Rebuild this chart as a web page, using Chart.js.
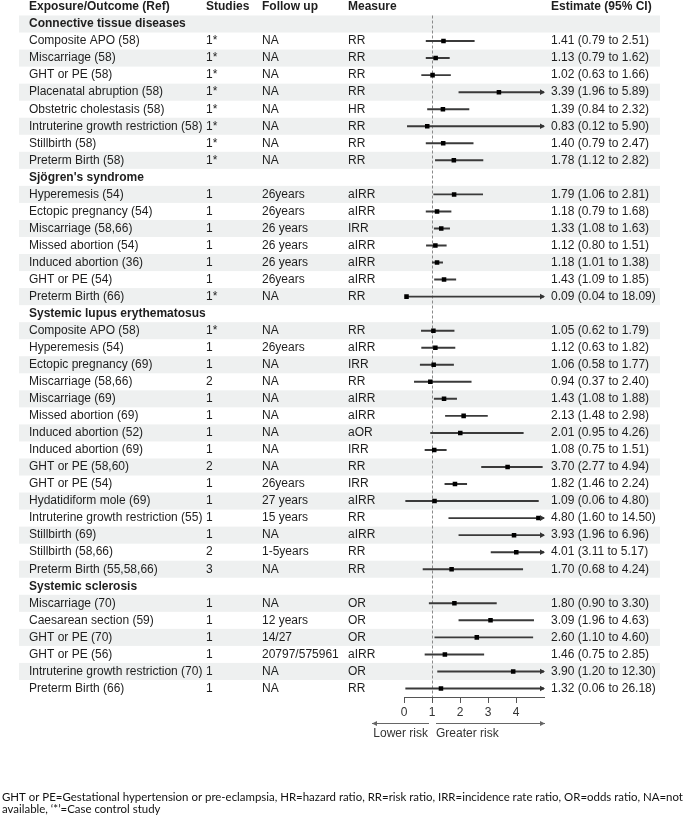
<!DOCTYPE html>
<html>
<head>
<meta charset="utf-8">
<script src="https://cdn.jsdelivr.net/npm/chart.js@4.4.1/dist/chart.umd.min.js"></script>
<style>
    body {margin: 0; background: #fff;}
    #wrap {position: relative; width: 685px; height: 819px;}
</style>
</head>
<body>
<div id="wrap"><canvas id="forest"></canvas></div>
<script>
//分组
var sections = ['Connective tissue diseases', "Sjögren's syndrome", 'Systemic lupus erythematosus', 'Systemic sclerosis'];
var sectionOf = [0, 0, 0, 0, 0, 0, 0, 0,
    1, 1, 1, 1, 1, 1, 1,
    2, 2, 2, 2, 2, 2, 2, 2, 2, 2, 2, 2, 2, 2, 2,
    3, 3, 3, 3, 3, 3];
var outcomes = ['Composite APO (58)', 'Miscarriage (58)', 'GHT or PE (58)', 'Placenatal abruption (58)',
    'Obstetric cholestasis (58)', 'Intruterine growth restriction (58)', 'Stillbirth (58)', 'Preterm Birth (58)',
    'Hyperemesis (54)', 'Ectopic pregnancy (54)', 'Miscarriage (58,66)', 'Missed abortion (54)',
    'Induced abortion (36)', 'GHT or PE (54)', 'Preterm Birth (66)',
    'Composite APO (58)', 'Hyperemesis (54)', 'Ectopic pregnancy (69)', 'Miscarriage (58,66)', 'Miscarriage (69)',
    'Missed abortion (69)', 'Induced abortion (52)', 'Induced abortion (69)', 'GHT or PE (58,60)', 'GHT or PE (54)',
    'Hydatidiform mole (69)', 'Intruterine growth restriction (55)', 'Stillbirth (69)', 'Stillbirth (58,66)',
    'Preterm Birth (55,58,66)',
    'Miscarriage (70)', 'Caesarean section (59)', 'GHT or PE (70)', 'GHT or PE (56)',
    'Intruterine growth restriction (70)', 'Preterm Birth (66)'];
var studies = ['1*', '1*', '1*', '1*', '1*', '1*', '1*', '1*',
    '1', '1', '1', '1', '1', '1', '1*',
    '1*', '1', '1', '2', '1', '1', '1', '1', '2', '1', '1', '1', '1', '2', '3',
    '1', '1', '1', '1', '1', '1'];
var followUp = ['NA', 'NA', 'NA', 'NA', 'NA', 'NA', 'NA', 'NA',
    '26years', '26years', '26 years', '26 years', '26 years', '26years', 'NA',
    'NA', '26years', 'NA', 'NA', 'NA', 'NA', 'NA', 'NA', 'NA', '26years', '27 years', '15 years', 'NA', '1-5years', 'NA',
    'NA', '12 years', '14/27', '20797/575961', 'NA', 'NA'];
var measures = ['RR', 'RR', 'RR', 'RR', 'HR', 'RR', 'RR', 'RR',
    'aIRR', 'aIRR', 'IRR', 'aIRR', 'aIRR', 'aIRR', 'RR',
    'RR', 'aIRR', 'IRR', 'RR', 'aIRR', 'aIRR', 'aOR', 'IRR', 'RR', 'IRR', 'aIRR', 'RR', 'aIRR', 'RR', 'RR',
    'OR', 'OR', 'OR', 'aIRR', 'OR', 'RR'];
var estimate = [1.41, 1.13, 1.02, 3.39, 1.39, 0.83, 1.40, 1.78,
    1.79, 1.18, 1.33, 1.12, 1.18, 1.43, 0.09,
    1.05, 1.12, 1.06, 0.94, 1.43, 2.13, 2.01, 1.08, 3.70, 1.82, 1.09, 4.80, 3.93, 4.01, 1.70,
    1.80, 3.09, 2.60, 1.46, 3.90, 1.32];
var lower = [0.79, 0.79, 0.63, 1.96, 0.84, 0.12, 0.79, 1.12,
    1.06, 0.79, 1.08, 0.80, 1.01, 1.09, 0.04,
    0.62, 0.63, 0.58, 0.37, 1.08, 1.48, 0.95, 0.75, 2.77, 1.46, 0.06, 1.60, 1.96, 3.11, 0.68,
    0.90, 1.96, 1.10, 0.75, 1.20, 0.06];
var upper = [2.51, 1.62, 1.66, 5.89, 2.32, 5.90, 2.47, 2.82,
    2.81, 1.68, 1.63, 1.51, 1.38, 1.85, 18.09,
    1.79, 1.82, 1.77, 2.40, 1.88, 2.98, 4.26, 1.51, 4.94, 2.24, 4.80, 14.50, 6.96, 5.17, 4.24,
    3.30, 4.63, 4.60, 2.85, 12.30, 26.18];
var xTicks = [0, 1, 2, 3, 4];
var xMax = 5;
var headers = ['Exposure/Outcome (Ref)', 'Studies', 'Follow up', 'Measure', 'Estimate (95% CI)'];
var footnote = ['GHT or PE=Gestational hypertension or pre-eclampsia, HR=hazard ratio, RR=risk ratio, IRR=incidence rate ratio, OR=odds ratio, NA=not',
    'available, \u2018*\u2019=Case control study'];

//表格行（分组标题 + 结局）
var rowText = [], rowBold = [], rowStudy = [], rowFollow = [], rowMeasure = [], rowEst = [], rowCI = [], rowUpper = [];
for (var i = 0; i < outcomes.length; i++) {
    if (i == 0 || sectionOf[i] != sectionOf[i - 1]) {
        rowText.push(sections[sectionOf[i]]); rowBold.push(true);
        rowStudy.push(''); rowFollow.push(''); rowMeasure.push('');
        rowEst.push(null); rowCI.push(null); rowUpper.push(null);
    }
    rowText.push(outcomes[i]); rowBold.push(false);
    rowStudy.push(studies[i]); rowFollow.push(followUp[i]); rowMeasure.push(measures[i]);
    rowEst.push(estimate[i]); rowCI.push([lower[i], upper[i]]); rowUpper.push(upper[i]);
}

var FONT = '"Liberation Sans", Arial, sans-serif';
var colX = [29, 206, 262, 348, 551];

var forestPlugin = {
    id: 'forest',
    beforeDatasetsDraw: function (chart) {
        var ctx = chart.ctx, y = chart.scales.y, x = chart.scales.x;
        var h = (y.getPixelForValue(1) - y.getPixelForValue(0));
        ctx.save();
        //斑马纹
        ctx.fillStyle = '#eef0f0';
        for (var i = 0; i < rowText.length; i += 2) {
            var cy = y.getPixelForValue(i);
            ctx.fillRect(19, cy - h / 2, 641, h);
        }
        //参考线 x=1
        ctx.strokeStyle = '#8a8a8a';
        ctx.lineWidth = 1;
        ctx.setLineDash([3, 2]);
        var px = Math.round(x.getPixelForValue(1)) + 0.5;
        ctx.beginPath();
        ctx.moveTo(px, chart.chartArea.top);
        ctx.lineTo(px, chart.chartArea.bottom);
        ctx.stroke();
        ctx.restore();
    },
    afterDatasetsDraw: function (chart) {
        var ctx = chart.ctx, y = chart.scales.y, x = chart.scales.x;
        ctx.save();
        ctx.fillStyle = '#333';
        for (var i = 0; i < rowText.length; i++) {
            if (rowUpper[i] != null && rowUpper[i] > xMax) {
                var ex = x.right + 1, cy = y.getPixelForValue(i);
                ctx.beginPath();
                ctx.moveTo(ex, cy);
                ctx.lineTo(ex - 5, cy - 2.8);
                ctx.lineTo(ex - 5, cy + 2.8);
                ctx.closePath();
                ctx.fill();
            }
        }
        ctx.restore();
    },
    afterDraw: function (chart) {
        var ctx = chart.ctx, y = chart.scales.y, x = chart.scales.x;
        var h = (y.getPixelForValue(1) - y.getPixelForValue(0));
        ctx.save();
        ctx.textBaseline = 'middle';
        ctx.fillStyle = '#1e1e1e';
        //表头
        ctx.font = 'bold 12px ' + FONT;
        var hy = y.getPixelForValue(0) - h;
        for (var c = 0; c < headers.length; c++) {
            ctx.fillText(headers[c], colX[c], hy);
        }
        for (var i = 0; i < rowText.length; i++) {
            var cy = y.getPixelForValue(i);
            ctx.font = (rowBold[i] ? 'bold ' : '') + '12px ' + FONT;
            ctx.fillText(rowText[i], colX[0], cy);
            if (rowBold[i]) continue;
            ctx.font = '12px ' + FONT;
            ctx.fillText(rowStudy[i], colX[1], cy);
            ctx.fillText(rowFollow[i], colX[2], cy);
            ctx.fillText(rowMeasure[i], colX[3], cy);
            ctx.fillText(rowEst[i].toFixed(2) + ' (' + rowCI[i][0].toFixed(2) + ' to ' + rowCI[i][1].toFixed(2) + ')', colX[4], cy);
        }
        //风险方向箭头
        var one = x.getPixelForValue(1);
        var ay = chart.chartArea.bottom + 26.5;
        ctx.strokeStyle = '#666';
        ctx.fillStyle = '#666';
        ctx.lineWidth = 1;
        ctx.beginPath();
        ctx.moveTo(one - 60, ay); ctx.lineTo(one - 3, ay);
        ctx.moveTo(one + 4, ay); ctx.lineTo(x.right + 1, ay);
        ctx.stroke();
        ctx.beginPath();
        ctx.moveTo(x.right + 1, ay); ctx.lineTo(x.right - 4, ay - 2.5); ctx.lineTo(x.right - 4, ay + 2.5); ctx.closePath();
        ctx.moveTo(one - 60, ay); ctx.lineTo(one - 55, ay - 2.5); ctx.lineTo(one - 55, ay + 2.5); ctx.closePath();
        ctx.fill();
        ctx.fillStyle = '#333';
        ctx.font = '12px ' + FONT;
        ctx.textAlign = 'right';
        ctx.fillText('Lower risk', one - 4, ay + 10);
        ctx.textAlign = 'left';
        ctx.fillText('Greater risk', one + 4, ay + 10);
        //脚注
        ctx.fillStyle = '#111';
        var size = 12;
        ctx.font = size + 'px Lato, "Open Sans", sans-serif';
        var w = ctx.measureText(footnote[0]).width;
        size = size * 681 / w;
        ctx.font = size.toFixed(2) + 'px Lato, "Open Sans", sans-serif';
        ctx.fillText(footnote[0], 2, 797);
        ctx.fillText(footnote[1], 2, 809);
        ctx.restore();
    }
};

var ctx = document.getElementById('forest').getContext('2d');
var myChart = new Chart(ctx, {
    type: 'bar',
    data: {
        labels: rowText.map(function (t, i) { return 'r' + i; }),
        datasets: [{
            type: 'line',
            data: rowEst,
            indexAxis: 'y',
            showLine: false,
            pointStyle: 'rect',
            pointRadius: 3.2,
            pointBackgroundColor: '#000',
            pointBorderWidth: 0,
            order: 1
        }, {
            type: 'bar',
            data: rowCI,
            indexAxis: 'y',
            backgroundColor: '#3a3a3a',
            barThickness: 1.3,
            clip: 0,
            order: 2
        }]
    },
    options: {
        indexAxis: 'y',
        responsive: true,
        maintainAspectRatio: false,
        animation: false,
        layout: {padding: {left: 404, right: 141, top: 15.5, bottom: 92}},
        plugins: {legend: {display: false}, tooltip: {enabled: false}},
        scales: {
            y: {display: false, offset: true},
            x: {
                type: 'linear',
                min: 0,
                max: xMax,
                afterBuildTicks: function (scale) {
                    scale.ticks = xTicks.map(function (v) { return {value: v}; });
                },
                afterFit: function (scale) { scale.height = 30; },
                grid: {drawOnChartArea: false, drawTicks: true, tickLength: 6, color: '#555'},
                border: {display: true, color: '#555'},
                ticks: {padding: 2, color: '#333', font: {size: 12, family: FONT}}
            }
        }
    },
    plugins: [forestPlugin]
});
</script>
</body>
</html>
